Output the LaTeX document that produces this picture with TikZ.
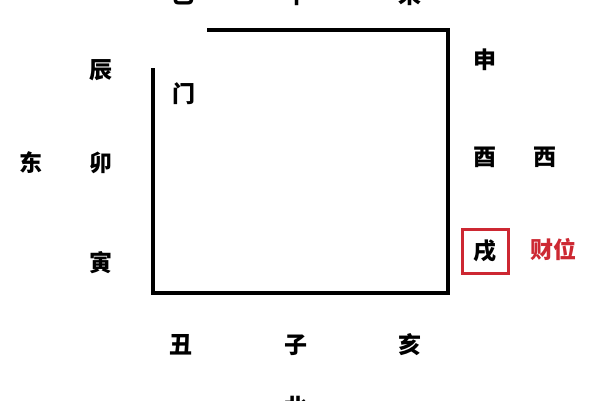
\documentclass[tikz,border=0pt]{standalone}
\usepackage{fontspec}
\newfontfamily\cjk{Noto Sans CJK SC}
\definecolor{cai}{RGB}{205,40,50}
\begin{document}
\begin{tikzpicture}[x=1pt,y=-1pt,
  lab/.style={font=\cjk\bfseries\fontsize{23}{23}\selectfont, inner sep=0pt},
  wall/.style={line width=3.6pt, line cap=butt}]
\useasboundingbox (0,0) rectangle (600,400);
\clip (0,0) rectangle (600,400);
\fill[white] (0,0) rectangle (600,400);
% walls
\coordinate (tl) at (207,30);
\coordinate (tr) at (448,30);
\coordinate (br) at (448,293);
\coordinate (bl) at (153,293);
\coordinate (lt) at (153,68);
\draw[wall] (tl) -- (tr) -- (br) -- (bl) -- (lt);
% labels
\node[lab] (si) at (183,-5) {巳};
\node[lab] (wu) at (297,-5) {午};
\node[lab] (wei) at (410,-5) {未};
\node[lab] (chen) at (101,70) {辰};
\node[lab] (mao) at (101,163) {卯};
\node[lab] (yin) at (101,263) {寅};
\node[lab] (dong) at (31,163) {东};
\node[lab] (men) at (184,94) {门};
\node[lab] (shen) at (485,60) {申};
\node[lab] (you) at (485,157) {酉};
\node[lab] (xi) at (545,157) {西};
\node[lab, draw=cai, line width=3pt, minimum width=46pt, minimum height=44pt] (xu) at (485,251) {戌};
\node[lab, text=cai] (cw) at (553,250) {财位};
\node[lab] (chou) at (181,345) {丑};
\node[lab] (zi) at (296,345) {子};
\node[lab] (hai) at (410,345) {亥};
\node[lab] (bei) at (296,407) {北};
\end{tikzpicture}
\end{document}
